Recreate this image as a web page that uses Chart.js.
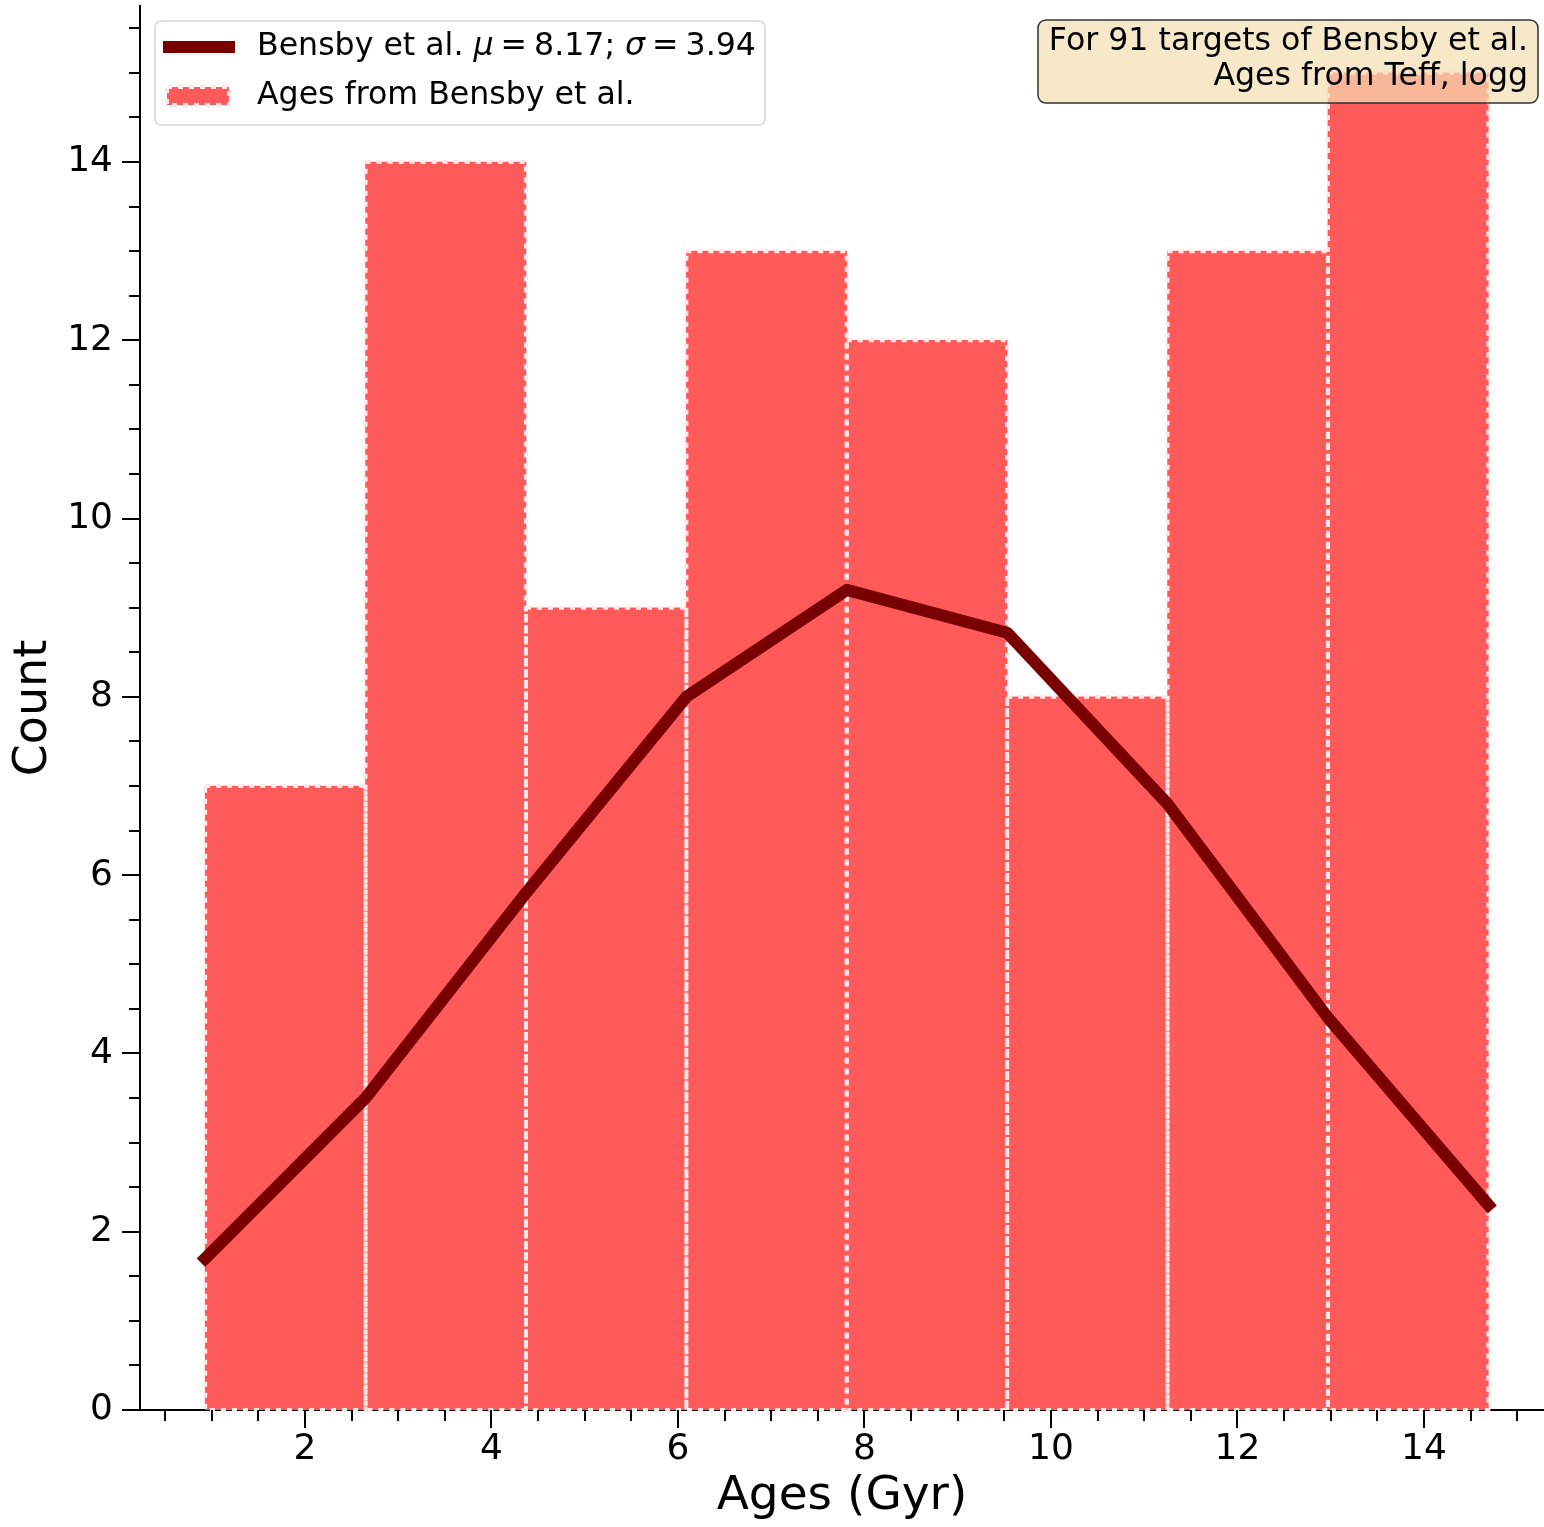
<!DOCTYPE html>
<html>
<head>
<meta charset="utf-8">
<title>Ages (Gyr) histogram</title>
<script src="https://cdn.jsdelivr.net/npm/chart.js@4.4.1/dist/chart.umd.min.js"></script>
<style>
  html, body { margin: 0; padding: 0; background: #fff; overflow: hidden; }
  #wrap { width: 1544px; height: 1527px; }
</style>
</head>
<body>
<div id="wrap"><canvas id="agesChart" width="1544" height="1527"></canvas></div>
<script>
// histogram bins (Gyr) and star counts per bin
const binEdges = [0.93, 2.65, 4.37, 6.09, 7.81, 9.53, 11.25, 12.97, 14.69];
const binCounts = [7, 14, 9, 13, 12, 8, 13, 15];
// fitted curve, sampled at the bin edges
const fitValues = [1.70, 3.50, 5.80, 8.00, 9.20, 8.72, 6.80, 4.40, 2.30];
const fitMu = '8.17';
const fitSigma = '3.94';

const xTickLabels = [2, 4, 6, 8, 10, 12, 14];
const yTickLabels = [0, 2, 4, 6, 8, 10, 12, 14];
const legendLabels = ['Bensby et al.', 'Ages from Bensby et al.'];
const noteLines = ['For 91 targets of Bensby et al.', 'Ages from Teff, logg'];

const FONT = 'DejaVu Sans';
const BOX_FONT = 31.6;
const LINE_COLOR = '#780000';
const BAR_COLOR = '#ff5a5a';
const EDGE_COLOR = 'rgba(255, 232, 232, 1)';

Chart.defaults.font.family = FONT;
Chart.defaults.color = '#000';

const barData = binCounts.map((c, i) => ({ x: (binEdges[i] + binEdges[i + 1]) / 2, y: c }));
const lineData = binEdges.map((e, i) => ({ x: e, y: fitValues[i] }));

// dashed edges around every histogram bar
const barEdges = {
    id: 'barEdges',
    afterDatasetDraw(chart, args) {
        if (args.meta.type !== 'bar') return;
        const ctx = chart.ctx;
        ctx.save();
        ctx.strokeStyle = EDGE_COLOR;
        ctx.lineWidth = 4;
        ctx.setLineDash([5, 6]);
        args.meta.data.forEach(bar => {
            const { x, y, base, width } = bar.getProps(['x', 'y', 'base', 'width'], true);
            ctx.strokeRect(x - width / 2, y, width, base - y);
        });
        ctx.restore();
    }
};

// major and minor tick marks, pointing outwards
const tickMarks = {
    id: 'tickMarks',
    afterDraw(chart) {
        const { ctx, scales: { x, y } } = chart;
        ctx.save();
        ctx.strokeStyle = '#000';
        ctx.lineWidth = 2;
        ctx.beginPath();
        for (let v = 0; v <= x.max; v += 0.5) {
            if (v < x.min) continue;
            const px = Math.round(x.getPixelForValue(v));
            const len = xTickLabels.includes(v) ? 18 : 11;
            ctx.moveTo(px, x.top);
            ctx.lineTo(px, x.top + len);
        }
        for (let v = 0; v <= y.max; v += 0.5) {
            const py = Math.round(y.getPixelForValue(v));
            const len = yTickLabels.includes(v) ? 18 : 11;
            ctx.moveTo(y.right, py);
            ctx.lineTo(y.right - len, py);
        }
        ctx.stroke();
        ctx.restore();
    }
};

function roundBox(ctx, x, y, w, h, r) {
    ctx.beginPath();
    ctx.moveTo(x + r, y);
    ctx.arcTo(x + w, y, x + w, y + h, r);
    ctx.arcTo(x + w, y + h, x, y + h, r);
    ctx.arcTo(x, y + h, x, y, r);
    ctx.arcTo(x, y, x + w, y, r);
    ctx.closePath();
}

// text made of plain and italic pieces; a number just moves the pen
function drawRuns(ctx, runs, x, y, size) {
    runs.forEach(run => {
        if (typeof run === 'number') { x += run; return; }
        const [text, italic] = run;
        ctx.font = (italic ? 'italic ' : '') + size + 'px "' + FONT + '"';
        ctx.fillText(text, x, y);
        x += ctx.measureText(text).width;
    });
}

// legend box and the note box in the corner
const boxes = {
    id: 'boxes',
    afterDraw(chart) {
        const ctx = chart.ctx;
        ctx.save();

        roundBox(ctx, 155, 21, 610, 104, 6);
        ctx.fillStyle = 'rgba(255, 255, 255, 0.8)';
        ctx.fill();
        ctx.strokeStyle = '#d6d6d6';
        ctx.lineWidth = 1.5;
        ctx.stroke();

        ctx.strokeStyle = LINE_COLOR;
        ctx.lineWidth = 12;
        ctx.beginPath();
        ctx.moveTo(163, 47);
        ctx.lineTo(235, 47);
        ctx.stroke();

        ctx.fillStyle = BAR_COLOR;
        ctx.fillRect(167, 87, 62, 18);
        ctx.strokeStyle = EDGE_COLOR;
        ctx.lineWidth = 4;
        ctx.setLineDash([5, 6]);
        ctx.strokeRect(167, 87, 62, 18);
        ctx.setLineDash([]);

        ctx.fillStyle = '#000';
        ctx.textBaseline = 'middle';
        ctx.textAlign = 'left';
        const gap = 7;
        drawRuns(ctx, [
            [legendLabels[0] + ' ', false], ['\u03bc', true], gap, ['=', false], gap,
            [fitMu + '; ', false], ['\u03c3', true], gap, ['=', false], gap, [fitSigma, false]
        ], 257, 47, BOX_FONT);
        drawRuns(ctx, [[legendLabels[1], false]], 257, 96, BOX_FONT);

        roundBox(ctx, 1038, 20, 500, 83, 8);
        ctx.fillStyle = 'rgba(245, 222, 179, 0.7)';
        ctx.fill();
        ctx.strokeStyle = '#333';
        ctx.lineWidth = 1.5;
        ctx.stroke();

        ctx.fillStyle = '#000';
        ctx.textAlign = 'right';
        ctx.font = BOX_FONT + 'px "' + FONT + '"';
        ctx.fillText(noteLines[0], 1528, 42);
        ctx.fillText(noteLines[1], 1528, 77);
        ctx.restore();
    }
};

new Chart(document.getElementById('agesChart'), {
    type: 'bar',
    data: {
        datasets: [{
            type: 'line',
            label: legendLabels[0],
            data: lineData,
            borderColor: LINE_COLOR,
            borderWidth: 12,
            borderCapStyle: 'square',
            borderJoinStyle: 'round',
            pointRadius: 0,
            tension: 0,
            order: 0
        }, {
            type: 'bar',
            label: legendLabels[1],
            data: barData,
            backgroundColor: BAR_COLOR,
            borderWidth: 0,
            barPercentage: 1,
            categoryPercentage: 1,
            order: 1
        }]
    },
    options: {
        responsive: false,
        animation: false,
        layout: { padding: { top: 6, right: 0, bottom: 0, left: 0 } },
        plugins: {
            legend: { display: false },
            tooltip: { enabled: false }
        },
        scales: {
            x: {
                type: 'linear',
                position: 'bottom',
                min: 0.231,
                max: 15.287,
                offset: false,
                grid: { display: false, drawTicks: false },
                border: { display: true, color: '#000', width: 2 },
                ticks: {
                    stepSize: 2,
                    includeBounds: false,
                    autoSkip: false,
                    maxRotation: 0,
                    padding: 18,
                    font: { size: 36 },
                    callback: v => xTickLabels.includes(v) ? String(v) : ''
                },
                title: {
                    display: true,
                    text: 'Ages (Gyr)',
                    font: { size: 47 },
                    padding: { top: 0, bottom: 2 }
                },
                afterFit(scale) {
                    scale.height = 117;
                    scale.paddingLeft = 0;
                    scale.paddingRight = 0;
                }
            },
            y: {
                type: 'linear',
                min: 0,
                max: 15.75,
                grid: { display: false, drawTicks: false },
                border: { display: true, color: '#000', width: 2 },
                ticks: {
                    stepSize: 2,
                    includeBounds: false,
                    autoSkip: false,
                    padding: 27,
                    font: { size: 36 },
                    callback: v => yTickLabels.includes(v) ? String(v) : ''
                },
                title: {
                    display: true,
                    text: 'Count',
                    font: { size: 46 },
                    padding: { top: 6, bottom: 0 }
                },
                afterFit(scale) {
                    scale.width = 140;
                    scale.paddingTop = 0;
                    scale.paddingBottom = 0;
                }
            }
        }
    },
    plugins: [barEdges, tickMarks, boxes]
});
</script>
</body>
</html>
